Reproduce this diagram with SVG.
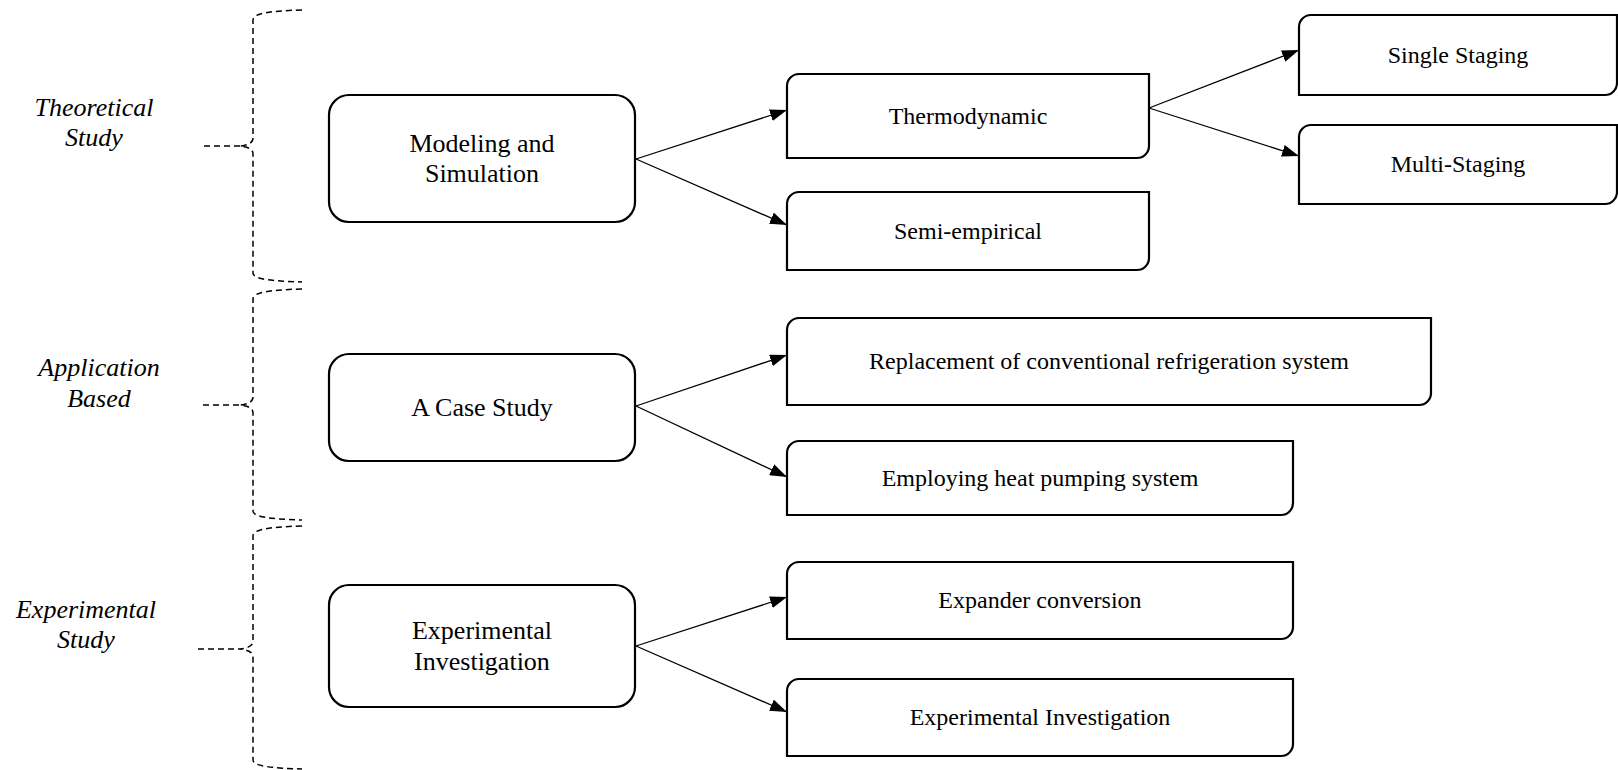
<svg xmlns="http://www.w3.org/2000/svg" width="1618" height="770" viewBox="0 0 1618 770">
<style>
.box{fill:#fff;stroke:#000;stroke-width:2.2}
.t{font-family:"Liberation Serif","Times New Roman",serif;fill:#000;text-anchor:middle}
.big{font-size:26px}
.sm{font-size:24px}
.lab{font-size:26px;font-style:italic}
.br{fill:none;stroke:#000;stroke-width:1.5;stroke-dasharray:6,4}
.ar{fill:none;stroke:#000;stroke-width:1.3;marker-end:url(#ah)}
</style>
<defs>
<marker id="ah" markerUnits="userSpaceOnUse" markerWidth="17" markerHeight="12" refX="17" refY="6" orient="auto">
<path d="M0,0 L17,6 L0,12 z" fill="#000"/>
</marker>
</defs>
<rect width="1618" height="770" fill="#fff"/>

<g id="braces">
<path class="br" d="M302,10 C270,11 253,13 253,20 V138 C253,143 248,145 240,146 C248,147 253,149 253,154 V273 C253,279 270,281 302,282 M204,146 H240"/>
<path class="br" d="M302,289 C270,290 253,292 253,299 V397 C253,402 248,404 240,405 C248,406 253,408 253,413 V511 C253,517 270,519 302,520 M203,405 H240"/>
<path class="br" d="M302,526 C270,527 253,529 253,536 V641 C253,646 248,648 240,649 C248,650 253,652 253,657 V760 C253,766 270,768 302,769 M198,649 H240"/>
</g>

<g id="labels">
<text class="t lab" x="94" y="116">Theoretical</text>
<text class="t lab" x="94" y="146">Study</text>
<text class="t lab" x="99" y="376">Application</text>
<text class="t lab" x="99" y="407">Based</text>
<text class="t lab" x="86" y="618">Experimental</text>
<text class="t lab" x="86" y="648">Study</text>
</g>

<g id="connectors">
<line class="ar" x1="636" y1="159" x2="787" y2="110"/>
<line class="ar" x1="636" y1="159" x2="787" y2="225"/>
<line class="ar" x1="1149" y1="108" x2="1299" y2="50"/>
<line class="ar" x1="1149" y1="108" x2="1299" y2="156"/>
<line class="ar" x1="636" y1="406" x2="787" y2="355"/>
<line class="ar" x1="636" y1="406" x2="787" y2="477"/>
<line class="ar" x1="636" y1="646" x2="787" y2="597"/>
<line class="ar" x1="636" y1="646" x2="787" y2="712"/>
</g>

<g id="n-modeling">
<rect class="box" x="329" y="95" width="306" height="127" rx="20"/>
<text class="t big" x="482" y="152">Modeling and</text>
<text class="t big" x="482" y="182">Simulation</text>
</g>
<g id="n-casestudy">
<rect class="box" x="329" y="354" width="306" height="107" rx="20"/>
<text class="t big" x="482" y="416">A Case Study</text>
</g>
<g id="n-expinv">
<rect class="box" x="329" y="585" width="306" height="122" rx="20"/>
<text class="t big" x="482" y="639">Experimental</text>
<text class="t big" x="482" y="670">Investigation</text>
</g>

<g id="n-thermo">
<path class="box" d="M799,74 H1149 V146 A12,12 0 0 1 1137,158 H787 V86 A12,12 0 0 1 799,74 Z"/>
<text class="t sm" x="968" y="124">Thermodynamic</text>
</g>
<g id="n-semi">
<path class="box" d="M799,192 H1149 V258 A12,12 0 0 1 1137,270 H787 V204 A12,12 0 0 1 799,192 Z"/>
<text class="t sm" x="968" y="239">Semi-empirical</text>
</g>
<g id="n-single">
<path class="box" d="M1311,15 H1617 V83 A12,12 0 0 1 1605,95 H1299 V27 A12,12 0 0 1 1311,15 Z"/>
<text class="t sm" x="1458" y="63">Single Staging</text>
</g>
<g id="n-multi">
<path class="box" d="M1311,125 H1617 V192 A12,12 0 0 1 1605,204 H1299 V137 A12,12 0 0 1 1311,125 Z"/>
<text class="t sm" x="1458" y="172">Multi-Staging</text>
</g>
<g id="n-replacement">
<path class="box" d="M799,318 H1431 V393 A12,12 0 0 1 1419,405 H787 V330 A12,12 0 0 1 799,318 Z"/>
<text class="t sm" x="1109" y="369">Replacement of conventional refrigeration system</text>
</g>
<g id="n-employing">
<path class="box" d="M799,441 H1293 V503 A12,12 0 0 1 1281,515 H787 V453 A12,12 0 0 1 799,441 Z"/>
<text class="t sm" x="1040" y="486">Employing heat pumping system</text>
</g>
<g id="n-expander">
<path class="box" d="M799,562 H1293 V627 A12,12 0 0 1 1281,639 H787 V574 A12,12 0 0 1 799,562 Z"/>
<text class="t sm" x="1040" y="608">Expander conversion</text>
</g>
<g id="n-expinv2">
<path class="box" d="M799,679 H1293 V744 A12,12 0 0 1 1281,756 H787 V691 A12,12 0 0 1 799,679 Z"/>
<text class="t sm" x="1040" y="725">Experimental Investigation</text>
</g>
</svg>
